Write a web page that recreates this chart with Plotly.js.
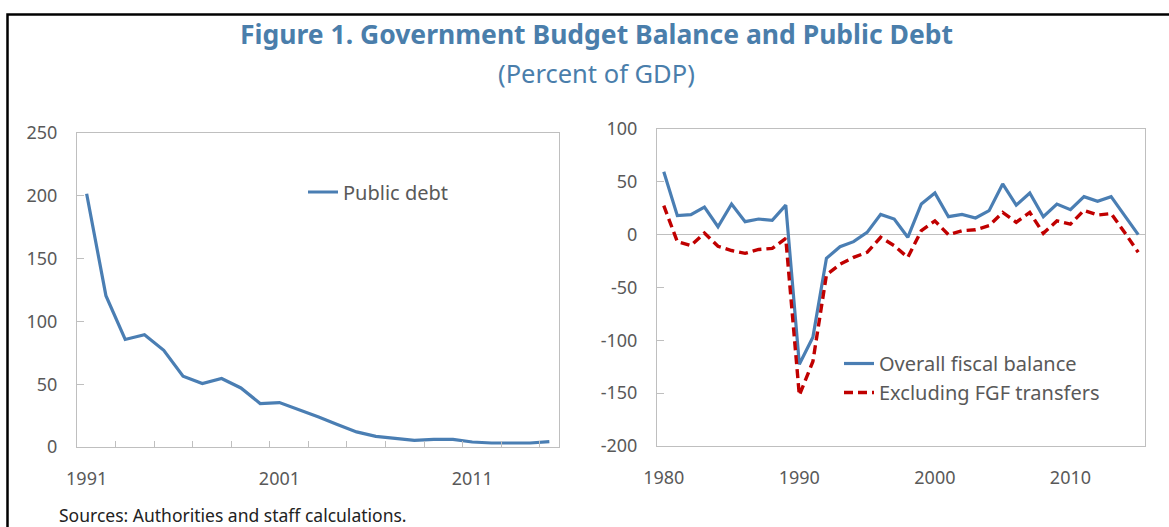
<!DOCTYPE html>
<html>
<head>
<meta charset="utf-8">
<script src="https://cdn.plot.ly/plotly-3.0.1.min.js"></script>
<style>html,body{margin:0;padding:0;background:#fff;}#chart{width:1169px;height:527px;}</style>
</head>
<body>
<div id="chart"></div>
<script>
// ---- data ----
const debtYears = [1991,1992,1993,1994,1995,1996,1997,1998,1999,2000,2001,2002,2003,2004,2005,2006,2007,2008,2009,2010,2011,2012,2013,2014,2015];
const publicDebt = [201.6,120.5,85.6,89.4,77,56.4,50.5,54.5,47,34.6,35.4,30,24,18,12,8.5,7.2,5.3,6.1,6.1,4,3.2,3.2,3.2,4.3];

const balYears = [1980,1981,1982,1983,1984,1985,1986,1987,1988,1989,1990,1991,1992,1993,1994,1995,1996,1997,1998,1999,2000,2001,2002,2003,2004,2005,2006,2007,2008,2009,2010,2011,2012,2013,2014,2015];
const overallBalance = [59.6,18,19,26,7.5,29,12.3,14.8,13.6,28,-122.7,-97,-22.4,-11.4,-6.6,2.2,19.2,14.8,-2.5,29,39.4,17,19.2,15.8,22.7,48,28,39.4,17,29,23.7,36,31.5,36,18,0];
const exclFGF = [27.4,-6.6,-10.4,1.6,-11,-15,-17.7,-14,-13,-3.5,-152,-120,-38,-28,-21.5,-16.7,-2.5,-10.4,-21.5,3.8,13,0,3.8,4.7,8.5,21,11.7,21,1.3,13,10,23,18.6,20,2,-16.7];

const debtTickLabels = [1991,2001,2011];
const balTickLabels = [1980,1990,2000,2010];
const debtYTicks = [0,50,100,150,200,250];
const balYTicks = [-200,-150,-100,-50,0,50,100];

const titleText = 'Figure 1. Government Budget Balance and Public Debt';
const subtitleText = '(Percent of GDP)';
const sourceText = 'Sources: Authorities and staff calculations.';
const names = ['Public debt','Overall fiscal balance','Excluding FGF transfers'];

// ---- styling ----
const W = 1169, H = 527;
const px = v => v / W;
const py = v => 1 - v / H;
const BLUE = '#4a7eb3', RED = '#c00000', GRID = '#bfbfbf', TXT = '#595959', TITLE = '#4a7eab';
const FONT = 'Noto Sans, Open Sans, sans-serif';

// minor tick positions: category boundaries every two years
const debtMinor = debtYears.slice(1, -1).filter((y, i) => i % 2 === 0).map(y => y + 0.5);
const balMinor = balYears.slice(1, -1).filter((y, i) => i % 2 === 0).map(y => y + 0.5);

const yDom2 = [py(446), py(129)];
const zeroPos = yDom2[0] + (yDom2[1] - yDom2[0]) * (200 / 300);

const traces = [
  {x: debtYears, y: publicDebt, name: names[0], type: 'scatter', mode: 'lines',
   line: {color: BLUE, width: 3.2}, xaxis: 'x', yaxis: 'y', legend: 'legend'},
  {x: balYears, y: overallBalance, name: names[1], type: 'scatter', mode: 'lines',
   line: {color: BLUE, width: 3.2}, xaxis: 'x2', yaxis: 'y2', legend: 'legend2'},
  {x: balYears, y: exclFGF, name: names[2], type: 'scatter', mode: 'lines',
   line: {color: RED, width: 3.4, dash: '9px,5px'}, xaxis: 'x2', yaxis: 'y2', legend: 'legend2'}
];

const tickFont = {family: FONT, size: 18, color: TXT};

const layout = {
  width: W, height: H,
  margin: {l: 0, r: 0, t: 0, b: 0},
  paper_bgcolor: '#fff', plot_bgcolor: '#fff',
  showlegend: true,
  title: {text: '<b>' + titleText + '</b>', x: px(596.5), xanchor: 'center', y: py(35), yanchor: 'middle',
          xref: 'container', yref: 'container', font: {family: FONT, size: 26.5, color: TITLE}},
  xaxis: {domain: [px(77), px(559)], anchor: 'y', range: [1990.5, 2015.5],
          tickmode: 'array', tickvals: debtTickLabels, ticktext: debtTickLabels.map(String),
          ticks: '', showgrid: false, zeroline: false, showline: true, mirror: true,
          linecolor: GRID, linewidth: 1, tickfont: tickFont, ticklabelstandoff: 15,
          minor: {tickmode: 'array', tickvals: debtMinor, ticks: 'inside', ticklen: 6, tickcolor: GRID, showgrid: false}},
  yaxis: {domain: [py(447), py(133)], anchor: 'x', range: [0, 250],
          tickmode: 'array', tickvals: debtYTicks, ticktext: debtYTicks.map(String),
          ticks: 'inside', ticklen: 7, tickcolor: GRID, showgrid: false, zeroline: false,
          showline: true, mirror: true, linecolor: GRID, linewidth: 1, tickfont: tickFont, ticklabelstandoff: 15},
  xaxis2: {domain: [px(657), px(1145)], anchor: 'y2', range: [1979.5, 2015.5],
          tickmode: 'array', tickvals: balTickLabels, ticktext: balTickLabels.map(String),
          ticks: '', showgrid: false, zeroline: false, showline: true, mirror: true,
          linecolor: GRID, linewidth: 1, tickfont: tickFont, ticklabelstandoff: 15},
  xaxis3: {overlaying: 'x2', anchor: 'free', position: zeroPos, range: [1979.5, 2015.5],
          tickmode: 'array', tickvals: balMinor, ticks: 'inside', ticklen: 7, tickcolor: GRID,
          showticklabels: false, showgrid: false, zeroline: false, showline: false},
  yaxis2: {domain: yDom2, anchor: 'x2', range: [-200, 100],
          tickmode: 'array', tickvals: balYTicks, ticktext: balYTicks.map(String),
          ticks: 'inside', ticklen: 7, tickcolor: GRID, showgrid: false,
          zeroline: true, zerolinecolor: GRID, zerolinewidth: 1,
          showline: true, mirror: true, linecolor: GRID, linewidth: 1, tickfont: tickFont, ticklabelstandoff: 15},
  legend: {x: px(303), y: py(192), xanchor: 'left', yanchor: 'middle', bgcolor: 'rgba(0,0,0,0)',
           font: {family: FONT, size: 20, color: TXT}, itemclick: false},
  legend2: {x: px(839), y: py(378), xanchor: 'left', yanchor: 'middle', bgcolor: 'rgba(0,0,0,0)',
           font: {family: FONT, size: 20, color: TXT}, itemclick: false, tracegroupgap: 0},
  annotations: [
    {text: subtitleText, xref: 'paper', yref: 'paper', x: px(596), y: py(73), xanchor: 'center', yanchor: 'middle',
     showarrow: false, font: {family: FONT, size: 25.5, color: TITLE}},
    {text: sourceText, xref: 'paper', yref: 'paper', x: px(57), y: py(515), xanchor: 'left', yanchor: 'middle',
     showarrow: false, font: {family: FONT, size: 17.5, color: '#222'}}
  ],
  shapes: [
    {type: 'path', xref: 'paper', yref: 'paper', path: 'M ' + px(7.5) + ',' + (-0.05) + ' L ' + px(7.5) + ',' + py(14.5) + ' L ' + 1.01 + ',' + py(14.5),
     line: {color: '#000', width: 2.5}}
  ]
};

Plotly.newPlot('chart', traces, layout, {displayModeBar: false, staticPlot: true});
</script>
</body>
</html>
